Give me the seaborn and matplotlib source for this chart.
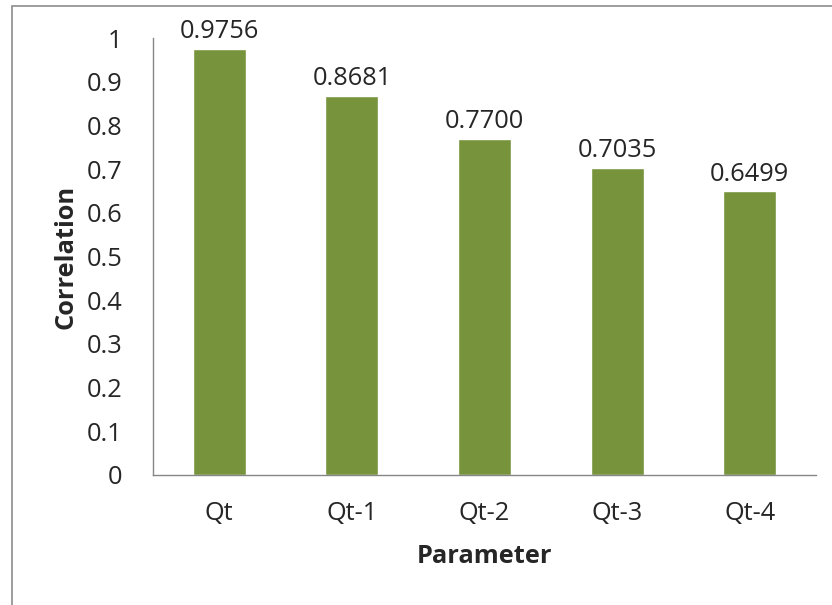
import matplotlib
matplotlib.use("Agg")
import matplotlib.pyplot as plt
import seaborn as sns
import numpy as np
from matplotlib.patches import Rectangle

parameters = ["Qt", "Qt-1", "Qt-2", "Qt-3", "Qt-4"]
correlations = [0.9756, 0.8681, 0.7700, 0.7035, 0.6499]
value_labels = ["0.9756", "0.8681", "0.7700", "0.7035", "0.6499"]
y_ticks = [0, 0.1, 0.2, 0.3, 0.4, 0.5, 0.6, 0.7, 0.8, 0.9, 1.0]
y_tick_labels = ["0", "0.1", "0.2", "0.3", "0.4", "0.5", "0.6", "0.7", "0.8", "0.9", "1"]

sns.set_style("white")
plt.rcParams["font.family"] = ["Open Sans", "DejaVu Sans"]

bar_color = "#77933C"
axis_color = "#868686"
fs = 18.3

fig = plt.figure(figsize=(8.32, 6.05), dpi=100)
ax = fig.add_axes([153 / 832, 1 - 475 / 605, (816 - 153) / 832, (475 - 38) / 605])

sns.barplot(x=parameters, y=correlations, color=bar_color, width=0.4,
            saturation=1, ax=ax)

ax.set_ylim(0, 1)
ax.set_xlim(-0.5, len(parameters) - 0.5)
ax.set_yticks(y_ticks)
ax.set_yticklabels(y_tick_labels, fontsize=fs)
ax.tick_params(axis="y", length=6, width=1, color=axis_color, pad=16)

# category labels sit between boundary ticks
ax.set_xticks(range(len(parameters)))
ax.set_xticklabels(parameters, fontsize=fs)
ax.tick_params(axis="x", which="major", length=0, pad=19)
ax.set_xticks(np.arange(-0.5, len(parameters)), minor=True)
ax.tick_params(axis="x", which="minor", length=6, width=1, color=axis_color)

for side in ["top", "right"]:
    ax.spines[side].set_visible(False)
for side in ["left", "bottom"]:
    ax.spines[side].set_color(axis_color)
    ax.spines[side].set_linewidth(1)

for i, (v, lab) in enumerate(zip(correlations, value_labels)):
    ax.annotate(lab, (i, v), xytext=(0, 3), textcoords="offset points",
                ha="center", va="bottom", fontsize=fs)

ax.set_xlabel("Parameter", fontsize=fs, fontweight="bold", labelpad=13)
ax.set_ylabel("Correlation", fontsize=fs, fontweight="bold", labelpad=6)
ax.grid(False)

# chart-area frame
fig.patches.append(Rectangle((11.5 / 832, -0.05), 1.1, 1.05 - 6.5 / 605,
                             transform=fig.transFigure, fill=False,
                             edgecolor="#8c8c8c", linewidth=1.2))

fig.savefig("out.png", dpi=100)
